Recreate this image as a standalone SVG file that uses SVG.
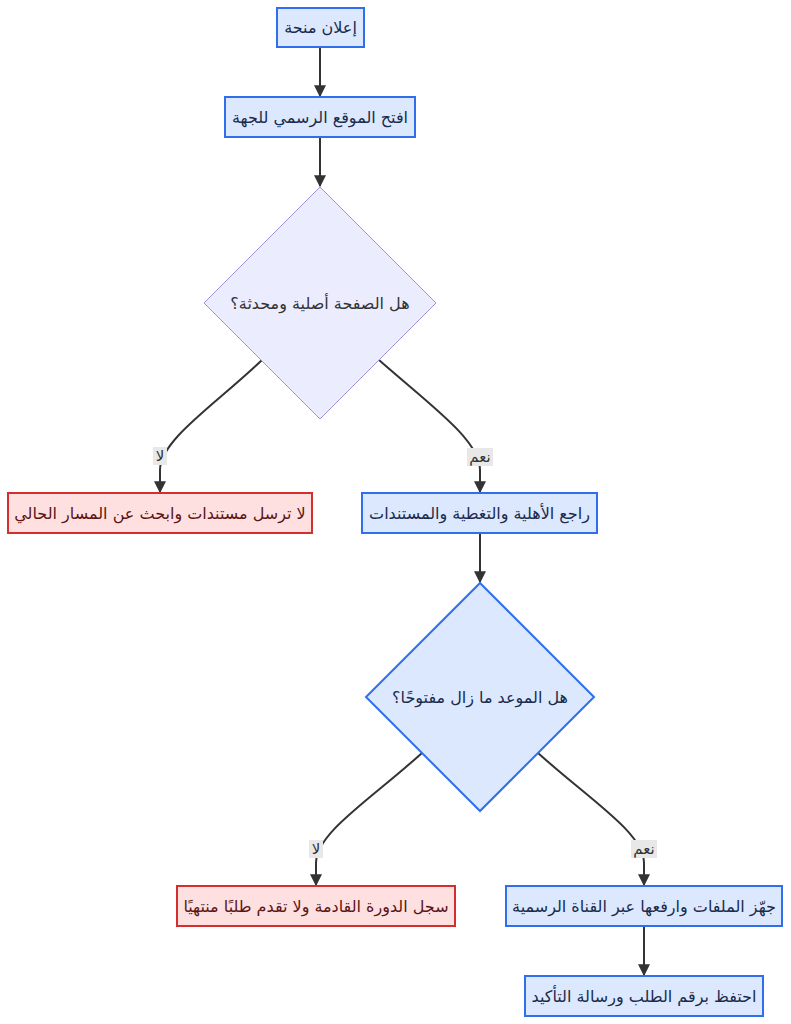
<svg xmlns="http://www.w3.org/2000/svg" width="791" height="1024" viewBox="0 0 791 1024">
<style>
.blue{fill:#dce8fd;stroke:#2f6fed;stroke-width:2}
.red{fill:#ffe0e0;stroke:#d32f2f;stroke-width:2}
.def{fill:#ececff;stroke:#a190dc;stroke-width:1}
.t{font-family:"DejaVu Sans",sans-serif;font-size:16px;text-anchor:middle;dominant-baseline:central}
.tb{fill:#1a2b4c}
.tr{fill:#5a1515}
.td{fill:#333}
.e{fill:none;stroke:#333;stroke-width:2}
.lbg{fill:#e8e8e8}
.lt{font-family:"DejaVu Sans",sans-serif;font-size:15px;text-anchor:middle;dominant-baseline:central;fill:#333}
</style>
<defs>
<marker id="ah" viewBox="0 0 10 10" refX="9" refY="5" markerWidth="12" markerHeight="12" markerUnits="userSpaceOnUse" orient="auto">
<path d="M0,0 L10,5 L0,10 z" fill="#333"/>
</marker>
</defs>
<g id="connectors">
<path class="e" d="M320,47 L320,96" marker-end="url(#ah)"/>
<path class="e" d="M320,137 L320,186" marker-end="url(#ah)"/>
<path class="e" d="M262,360 C215,405 160,440 160,470 L160,492" marker-end="url(#ah)"/>
<path class="e" d="M379,360 C430,405 480,440 480,470 L480,492" marker-end="url(#ah)"/>
<path class="e" d="M480,533 L480,582" marker-end="url(#ah)"/>
<path class="e" d="M422,753 C370,800 316,833 316,863 L316,885" marker-end="url(#ah)"/>
<path class="e" d="M538,753 C590,800 644,833 644,863 L644,885" marker-end="url(#ah)"/>
<path class="e" d="M644,926 L644,975" marker-end="url(#ah)"/>
<g id="l1"><rect class="lbg" x="153" y="447" width="14" height="18"/><text class="lt" x="160" y="456">لا</text></g>
<g id="l2"><rect class="lbg" x="467" y="448" width="26" height="18"/><text class="lt" x="480" y="457">نعم</text></g>
<g id="l3"><rect class="lbg" x="309" y="840" width="14" height="18"/><text class="lt" x="316" y="849">لا</text></g>
<g id="l4"><rect class="lbg" x="631" y="840" width="26" height="18"/><text class="lt" x="644" y="849">نعم</text></g>
</g>
<g id="n1"><rect class="blue" x="277" y="8" width="87" height="39"/><text class="t tb" x="320.5" y="27.5">إعلان منحة</text></g>
<g id="n2"><rect class="blue" x="225" y="97" width="190" height="40"/><text class="t tb" x="320" y="117">افتح الموقع الرسمي للجهة</text></g>
<g id="n3"><polygon class="def" points="320,187 436,303 320,419 204,303"/><text class="t td" x="320" y="303">هل الصفحة أصلية ومحدثة؟</text></g>
<g id="n4"><rect class="red" x="8" y="493" width="304" height="40"/><text class="t tr" x="160" y="513">لا ترسل مستندات وابحث عن المسار الحالي</text></g>
<g id="n5"><rect class="blue" x="362" y="493" width="235" height="40"/><text class="t tb" x="479.5" y="513">راجع الأهلية والتغطية والمستندات</text></g>
<g id="n6"><polygon class="blue" points="480,583 594,697 480,811 366,697"/><text class="t tb" x="480" y="697">هل الموعد ما زال مفتوحًا؟</text></g>
<g id="n7"><rect class="red" x="177" y="886" width="278" height="40"/><text class="t tr" x="316" y="906">سجل الدورة القادمة ولا تقدم طلبًا منتهيًا</text></g>
<g id="n8"><rect class="blue" x="506" y="886" width="276" height="40"/><text class="t tb" x="644" y="906">جهّز الملفات وارفعها عبر القناة الرسمية</text></g>
<g id="n9"><rect class="blue" x="525" y="976" width="238" height="40"/><text class="t tb" x="644" y="996">احتفظ برقم الطلب ورسالة التأكيد</text></g>
</svg>
